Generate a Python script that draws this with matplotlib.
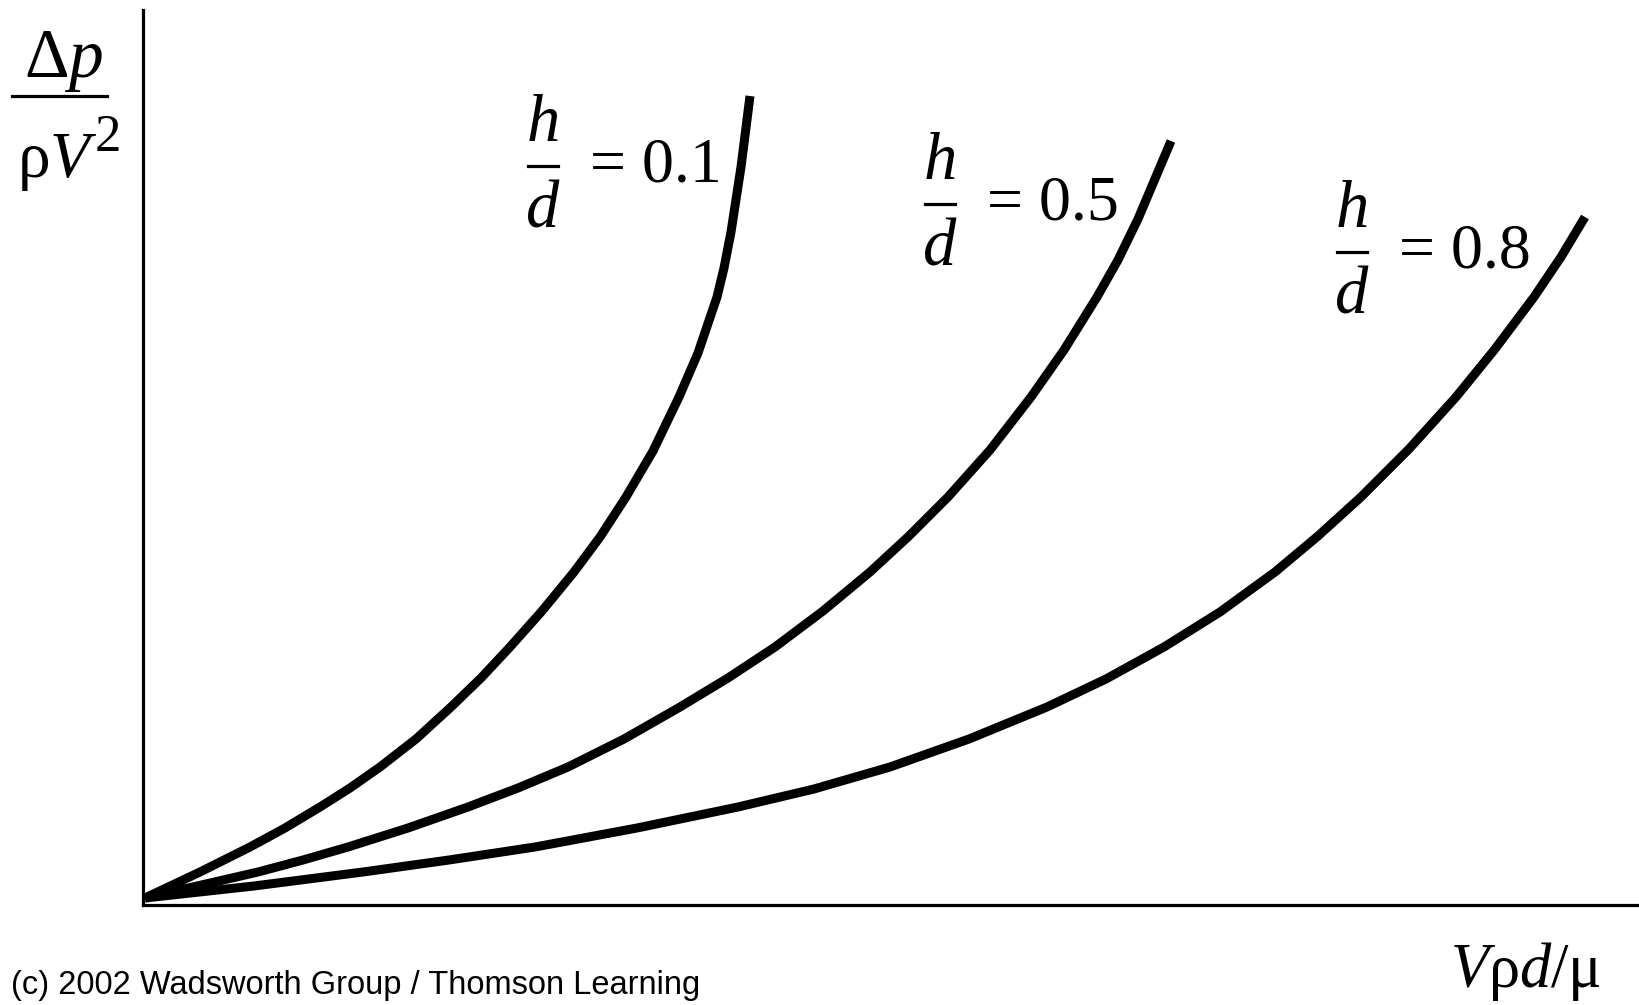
import matplotlib
matplotlib.use("Agg")
import matplotlib.pyplot as plt
from matplotlib.lines import Line2D

plt.rcParams.update({
    "font.family": "Liberation Serif",
    "mathtext.fontset": "custom",
    "mathtext.rm": "Liberation Serif",
    "mathtext.it": "Liberation Serif:italic",
})

# pressure-drop curves, arbitrary units (origin at the axis corner)
labels = ["0.1", "0.5", "0.8"]
x_01 = [0.02, 0.57, 1.07, 1.42, 1.77, 2.07, 2.37, 2.73, 3.08, 3.38, 3.67, 3.99,
        4.31, 4.57, 4.83, 5.10, 5.36, 5.55, 5.74, 5.81, 5.88, 5.98, 6.07]
y_01 = [0.07, 0.33, 0.58, 0.77, 0.98, 1.17, 1.38, 1.66, 1.98, 2.27, 2.58, 2.94,
        3.33, 3.68, 4.08, 4.54, 5.08, 5.52, 6.08, 6.37, 6.73, 7.38, 8.09]
x_05 = [0.02, 1.15, 1.60, 2.05, 2.65, 3.25, 3.75, 4.25, 4.81, 5.37, 5.85, 6.32,
        6.80, 7.27, 7.66, 8.05, 8.47, 8.88, 9.21, 9.54, 9.75, 9.95, 10.28]
y_05 = [0.07, 0.33, 0.45, 0.58, 0.77, 0.98, 1.17, 1.38, 1.66, 1.98, 2.27, 2.58,
        2.94, 3.33, 3.69, 4.08, 4.55, 5.08, 5.55, 6.08, 6.45, 6.86, 7.64]
x_08 = [0.02, 1.11, 2.20, 3.06, 3.92, 4.94, 5.95, 6.71, 7.47, 8.26, 9.04, 9.63,
        10.21, 10.77, 11.32, 11.75, 12.18, 12.66, 13.13, 13.52, 13.91, 14.18, 14.42]
y_08 = [0.07, 0.19, 0.33, 0.45, 0.58, 0.77, 0.98, 1.16, 1.38, 1.66, 1.98, 2.26,
        2.58, 2.93, 3.33, 3.69, 4.08, 4.56, 5.08, 5.56, 6.08, 6.48, 6.88]

W, H = 1639, 1005
fig = plt.figure(figsize=(W / 100, H / 100), dpi=100)


def fx(px):
    return px / W


def fy(py):
    return 1 - py / H


ax = fig.add_axes([fx(143), fy(905), fx(1639 - 143), (905 - 10) / H])
for xs, ys in [(x_01, y_01), (x_05, y_05), (x_08, y_08)]:
    ax.plot(xs, ys, color="black", lw=6.5, solid_capstyle="butt",
            solid_joinstyle="round", clip_on=False)
ax.set_xlim(0, 14.96)
ax.set_ylim(0, 8.95)
for s in ["top", "right"]:
    ax.spines[s].set_visible(False)
for s in ["left", "bottom"]:
    ax.spines[s].set_linewidth(2.3)
ax.set_xticks([])
ax.set_yticks([])

# y-axis label as a stacked fraction
fig.text(fx(64), fy(77), r"$\Delta p$", fontsize=50, ha="center", va="baseline")
fig.add_artist(Line2D([fx(12), fx(107)], [fy(96), fy(96)], color="black", lw=2.3))
fig.text(fx(17), fy(177), r"$\mathrm{\rho}V$", fontsize=47, ha="left", va="baseline")
fig.text(fx(95), fy(151), "2", fontsize=38, ha="left", va="baseline")

# x-axis label
fig.text(fx(1601), fy(987), r"$V\mathrm{\rho}d/\mathrm{\mu}$", fontsize=45,
         ha="right", va="baseline")

# h/d labels: (bar centre x, bar y) in pixels
label_pos = [(543, 166), (940, 204), (1352, 252)]
for lab, (cx, by) in zip(labels, label_pos):
    fig.text(fx(cx), fy(by - 25), "h", style="italic", fontsize=48,
             ha="center", va="baseline")
    fig.add_artist(Line2D([fx(cx - 15), fx(cx + 15)], [fy(by), fy(by)],
                          color="black", lw=2.3))
    fig.text(fx(cx), fy(by + 61), "d", style="italic", fontsize=48,
             ha="center", va="baseline")
    fig.text(fx(cx + 47), fy(by + 16), "= " + lab, fontsize=46,
             ha="left", va="baseline")

fig.text(fx(11), fy(994), "(c) 2002 Wadsworth Group / Thomson Learning",
         family="Liberation Sans", fontsize=23.5, ha="left", va="baseline")

fig.savefig("out.png", dpi=100, facecolor="white")
